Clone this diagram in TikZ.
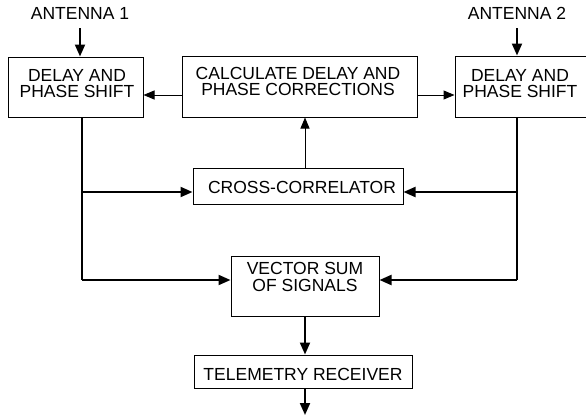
\documentclass[tikz,border=0pt]{standalone}
\usepackage{fontspec}
\setmainfont{Liberation Sans}
\usetikzlibrary{arrows.meta}
\begin{document}
\begin{tikzpicture}[x=1pt,y=-1pt,
  box/.style={draw,line width=1pt,rectangle,inner sep=0pt},
  txt/.style={font=\fontsize{17.5}{16.5}\selectfont,align=center,inner sep=0pt},
  thick line/.style={line width=2pt,-{Triangle[length=12pt,width=10pt]}},
  thin line/.style={line width=1pt,-{Triangle[length=11pt,width=9pt]}},
  plain thick/.style={line width=2pt}]
\useasboundingbox (0,0) rectangle (586,415);
% boxes
\node[box,minimum width=135pt,minimum height=60pt] (b1) at (75.5,87) {};
\node[box,minimum width=235pt,minimum height=61pt] (calc) at (299.5,86.5) {};
\node[box,minimum width=140pt,minimum height=61pt] (b2) at (525,86.5) {};
\node[box,minimum width=210pt,minimum height=36pt] (cc) at (298,186) {};
\node[box,minimum width=148pt,minimum height=60pt] (vs) at (305,286) {};
\node[box,minimum width=218pt,minimum height=33pt] (tr) at (303,371.5) {};
% texts
\node[txt] (a1) at (80,13) {ANTENNA 1};
\node[txt] (a2) at (517,13) {ANTENNA 2};
\node[txt] (t1) at (77,83.5) {DELAY AND\\PHASE SHIFT};
\node[txt] (tc) at (298,81.5) {CALCULATE DELAY AND\\PHASE CORRECTIONS};
\node[txt] (t2) at (520,83.5) {DELAY AND\\PHASE SHIFT};
\node[txt] (tcc) at (302,187) {CROSS-CORRELATOR};
\node[txt] (tvs) at (305,277) {VECTOR SUM\\OF SIGNALS};
\node[txt] (ttr) at (303,374) {TELEMETRY RECEIVER};
% coordinates
\coordinate (a1b) at (80,28);
\coordinate (a2b) at (517,28);
\coordinate (lcorner) at (82,280);
\coordinate (rcorner) at (517,280);
\coordinate (lbranch) at (82,192);
\coordinate (rbranch) at (517,192);
\coordinate (out) at (305,415);
% connectors
\draw[thick line] (a1b) -- (a1b |- b1.north);
\draw[thick line] (a2b) -- (a2b |- b2.north);
\draw[thin line] (calc.west |- 0,95) -- (b1.east |- 0,95);
\draw[thin line] (calc.east |- 0,95) -- (b2.west |- 0,95);
\draw[thin line] (305,0 |- cc.north) -- (305,0 |- calc.south);
\draw[plain thick] (lcorner |- b1.south) -- (lcorner);
\draw[thick line] (lcorner) -- (vs.west |- lcorner);
\draw[thick line] (lbranch) -- (cc.west |- lbranch);
\draw[plain thick] (rcorner |- b2.south) -- (rcorner);
\draw[thick line] (rcorner) -- (vs.east |- rcorner);
\draw[thick line] (rbranch) -- (cc.east |- rbranch);
\draw[thick line] (vs.south) -- (vs.south |- tr.north);
\draw[thick line] (tr.south -| out) -- (out);
\end{tikzpicture}
\end{document}
